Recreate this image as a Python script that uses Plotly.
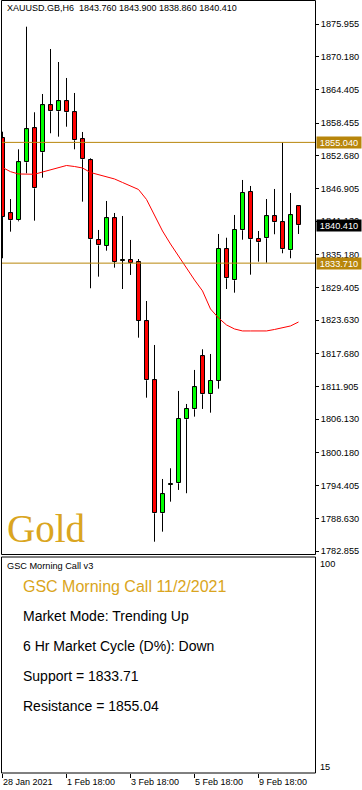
import plotly.graph_objects as go

W, H = 362, 790

# ---------------- data ----------------
symbol = "XAUUSD.GB,H6"
opens = [1855.76, 1842.52, 1841.28, 1851.52, 1857.53, 1853.29, 1861.59, 1860.53, 1862.30, 1860.36,
         1855.59, 1851.88, 1837.75, 1836.79, 1841.63, 1834.12, 1834.21, 1833.86, 1823.44, 1813.02,
         1789.52, 1794.65, 1794.82, 1806.13, 1807.89, 1817.25, 1810.54, 1812.89, 1836.21, 1830.68,
         1839.52, 1846.28, 1837.98, 1838.10, 1841.99, 1840.93, 1835.98, 1843.76]
highs = [1856.93, 1845.04, 1853.82, 1875.48, 1860.36, 1863.59, 1871.54, 1869.24, 1866.42, 1863.77,
         1856.88, 1852.23, 1839.57, 1844.69, 1842.57, 1842.04, 1837.80, 1834.44, 1827.02, 1819.25,
         1795.58, 1797.47, 1811.13, 1808.83, 1814.84, 1818.49, 1817.66, 1838.86, 1838.20, 1842.22,
         1848.40, 1847.34, 1839.39, 1845.04, 1846.81, 1855.04, 1846.10, 1843.90]
lows = [1834.57, 1839.27, 1841.10, 1849.58, 1841.21, 1848.80, 1856.65, 1856.05, 1857.81, 1853.82,
        1844.57, 1829.27, 1831.32, 1835.91, 1832.91, 1829.14, 1831.62, 1820.54, 1809.94, 1784.50,
        1786.27, 1791.57, 1793.64, 1793.06, 1806.59, 1807.95, 1807.29, 1811.53, 1829.14, 1828.49,
        1837.85, 1831.67, 1833.97, 1833.79, 1838.81, 1835.45, 1834.57, 1838.86]
closes = [1841.92, 1841.28, 1851.52, 1857.35, 1846.93, 1861.59, 1860.53, 1862.30, 1860.36, 1855.41,
          1852.06, 1837.92, 1836.83, 1841.63, 1833.97, 1834.12, 1833.79, 1823.55, 1813.02, 1789.52,
          1792.88, 1794.65, 1806.18, 1807.95, 1811.78, 1810.54, 1812.89, 1836.21, 1831.03, 1839.57,
          1846.10, 1837.92, 1837.39, 1841.99, 1840.93, 1836.16, 1842.16, 1840.41]
ma = [1850.61, 1849.87, 1849.46, 1849.41, 1849.41, 1849.81, 1850.17, 1850.61, 1850.96, 1850.78,
      1850.52, 1849.72, 1849.37, 1849.02, 1848.58, 1847.96, 1847.34, 1846.72, 1844.96, 1842.04,
      1839.39, 1837.09, 1834.97, 1832.68, 1830.74, 1828.80, 1825.61, 1824.02, 1822.79, 1822.08,
      1821.73, 1821.73, 1821.73, 1821.73, 1821.99, 1822.34, 1822.61, 1823.31]
support = 1833.71
resistance = 1855.04
price_ticks = [1875.955, 1870.180, 1864.405, 1858.455, 1852.680, 1846.905, 1841.130, 1835.180,
               1829.405, 1823.630, 1817.680, 1811.905, 1806.130, 1800.180, 1794.405, 1788.630, 1782.855]
time_tick_idx = [1, 9, 17, 25, 33]
time_tick_labels = ["28 Jan 2021", "1 Feb 18:00", "3 Feb 18:00", "5 Feb 18:00", "9 Feb 18:00"]
panel_title = "GSC Morning Call v3"
report_title = "GSC Morning Call 11/2/2021"
report_lines = ["Market Mode: Trending Up", "6 Hr Market Cycle (D%): Down",
                "Support = 1833.71", "Resistance = 1855.04"]
sub_scale = ["100", "15"]

# ---------------- helpers ----------------
def px(x):
    return x / W

def py(y):
    return 1 - y / H

GOLD_LINE = "#B8860B"
GOLD_TEXT = "#DAA520"
FONT = "Liberation Sans"

idx = list(range(1, len(opens) + 1))

# bodies
base, height, colors = [], [], []
for o, c in zip(opens, closes):
    lo, hi = min(o, c), max(o, c)
    if hi - lo < 0.2:
        mid = (hi + lo) / 2
        lo, hi = mid - 0.1, mid + 0.1
    base.append(lo)
    height.append(hi - lo)
    colors.append("#00FF00" if c >= o else "#FF0000")

# wicks (upper and lower parts, so they don't cross the bodies)
wx, wy = [], []
for i, h, l, o, c in zip(idx, highs, lows, opens, closes):
    top, bot = max(o, c), min(o, c)
    wx += [i, i, None, i, i, None]
    wy += [top, h, None, l, bot, None]

fig = go.Figure()
fig.add_trace(go.Bar(x=idx, y=height, base=base, width=0.5,
                     marker=dict(color=colors, line=dict(color="black", width=1)),
                     showlegend=False))
fig.add_trace(go.Scatter(x=wx, y=wy, mode="lines", line=dict(color="black", width=1),
                         hoverinfo="skip", showlegend=False))
fig.add_trace(go.Scatter(x=idx, y=ma, mode="lines", line=dict(color="#FF0000", width=1),
                         showlegend=False))

# axis ranges: 8 px per candle, candle 1 at pixel 2.5
x_left, x_right = 2, 315
xmin = 1 - (2.5 - x_left) / 8
xmax = xmin + (x_right - x_left) / 8
k = (551 - 24) / (1875.955 - 1782.855)
ytop = 1875.955 + 24 / k
ybot = 1875.955 - (554 - 24) / k

shapes = [
    dict(type="rect", xref="paper", yref="paper", x0=px(1.5), x1=px(315.5), y0=py(554.5), y1=py(0.5),
         line=dict(color="black", width=1)),
    dict(type="rect", xref="paper", yref="paper", x0=px(1.5), x1=px(315.5), y0=py(773), y1=py(557),
         line=dict(color="black", width=1)),
    dict(type="line", xref="paper", yref="y", x0=px(2), x1=px(315), y0=resistance, y1=resistance,
         line=dict(color=GOLD_LINE, width=1)),
    dict(type="line", xref="paper", yref="y", x0=px(2), x1=px(315), y0=support, y1=support,
         line=dict(color=GOLD_LINE, width=1)),
]

ann = []
# header
ann.append(dict(xref="paper", yref="paper", x=px(5), y=py(8.5), xanchor="left", yanchor="middle",
                text=f"{symbol}\u00a0\u00a0{opens[-1]:.3f} {highs[-1]:.3f} {lows[-1]:.3f} {closes[-1]:.3f}",
                showarrow=False, font=dict(family=FONT, size=9, color="black")))
# Gold watermark
ann.append(dict(xref="paper", yref="paper", x=px(5), y=py(528), xanchor="left", yanchor="middle",
                text="Gold", showarrow=False,
                font=dict(family="Liberation Serif", size=39, color=GOLD_TEXT)))
# price tags
for val, bg in [(resistance, GOLD_LINE), (closes[-1], "black"), (support, GOLD_LINE)]:
    ann.append(dict(xref="paper", yref="y", x=px(316), y=val, xanchor="left", yanchor="middle",
                    text=f"{val:.3f}", showarrow=False, bgcolor=bg, width=44, height=11,
                    borderpad=0, align="center",
                    font=dict(family=FONT, size=9.2, color="white")))
# sub-panel texts
ann.append(dict(xref="paper", yref="paper", x=px(5), y=py(566), xanchor="left", yanchor="middle",
                text=panel_title, showarrow=False, font=dict(family=FONT, size=9.2, color="black")))
ann.append(dict(xref="paper", yref="paper", x=px(21), y=py(586), xanchor="left", yanchor="middle",
                text=report_title, showarrow=False, font=dict(family=FONT, size=16, color=GOLD_TEXT)))
for j, line in enumerate(report_lines):
    ann.append(dict(xref="paper", yref="paper", x=px(21), y=py(616 + 30 * j), xanchor="left",
                    yanchor="middle", text=line, showarrow=False,
                    font=dict(family=FONT, size=14, color="black")))
ann.append(dict(xref="paper", yref="paper", x=px(318), y=py(564), xanchor="left", yanchor="middle",
                text=sub_scale[0], showarrow=False, font=dict(family=FONT, size=9.2, color="black")))
ann.append(dict(xref="paper", yref="paper", x=px(318), y=py(767), xanchor="left", yanchor="middle",
                text=sub_scale[1], showarrow=False, font=dict(family=FONT, size=9.2, color="black")))

fig.update_layout(
    width=W, height=H, margin=dict(l=0, r=0, t=0, b=0, autoexpand=False),
    paper_bgcolor="white", plot_bgcolor="white",
    barmode="overlay", bargap=0,
    showlegend=False,
    xaxis=dict(domain=[px(x_left), px(x_right)], range=[xmin, xmax], anchor="free", position=py(773),
               tickmode="array", tickvals=time_tick_idx, ticktext=time_tick_labels,
               ticks="outside", ticklen=4, tickcolor="black", ticklabelposition="outside right",
               tickfont=dict(family=FONT, size=9, color="black"), automargin=False,
               showgrid=False, zeroline=False, showline=False, fixedrange=True),
    yaxis=dict(domain=[py(554), 1], range=[ybot, ytop], side="right", anchor="x",
               tickmode="array", tickvals=price_ticks, ticktext=[f"{v:.3f}" for v in price_ticks],
               ticks="outside", ticklen=3, tickcolor="black", automargin=False,
               tickfont=dict(family=FONT, size=9.2, color="black"),
               showgrid=False, zeroline=False, showline=False, fixedrange=True),
    shapes=shapes, annotations=ann,
)

fig.write_html("out.html", config={"displayModeBar": False},
               post_script="document.body.style.margin='0';document.body.style.overflow='hidden';")
